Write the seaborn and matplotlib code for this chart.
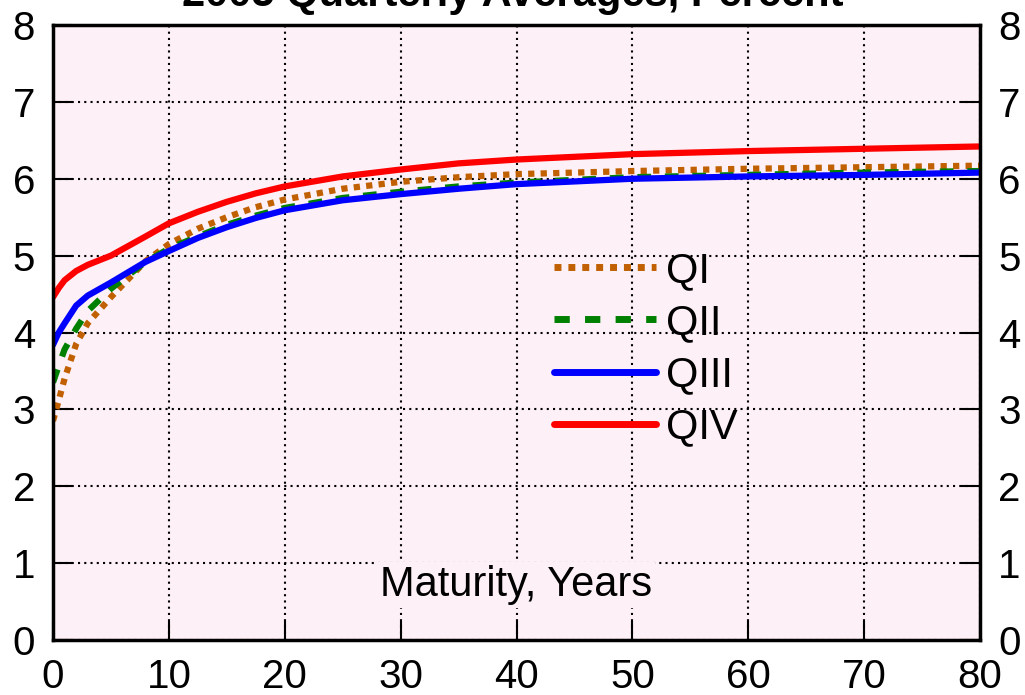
import numpy as np
import pandas as pd
import matplotlib
matplotlib.use("Agg")
import matplotlib.pyplot as plt
import seaborn as sns

maturity = [0, 0.5, 1, 2, 3, 5, 8, 10, 12.5, 15, 17.5, 20, 25, 30, 35, 40, 50, 60, 70, 80]
qi   = [2.85, 3.12, 3.40, 3.85, 4.12, 4.46, 4.93, 5.15, 5.35, 5.50, 5.63, 5.73, 5.87, 5.96, 6.02, 6.06, 6.10, 6.13, 6.15, 6.17]
qii  = [3.35, 3.57, 3.78, 4.05, 4.28, 4.57, 4.92, 5.09, 5.25, 5.40, 5.52, 5.62, 5.75, 5.83, 5.90, 5.95, 6.02, 6.05, 6.08, 6.10]
qiii = [3.84, 4.00, 4.12, 4.35, 4.48, 4.65, 4.92, 5.06, 5.23, 5.37, 5.49, 5.59, 5.72, 5.80, 5.87, 5.93, 6.00, 6.03, 6.05, 6.08]
qiv  = [4.46, 4.58, 4.68, 4.80, 4.88, 5.00, 5.25, 5.42, 5.57, 5.70, 5.81, 5.90, 6.03, 6.12, 6.20, 6.25, 6.32, 6.36, 6.39, 6.42]
series = ["QI", "QII", "QIII", "QIV"]
colors = ["#C06000", "#008000", "#0000FF", "#FF0000"]
x_ticks = [0, 10, 20, 30, 40, 50, 60, 70, 80]
y_ticks = [0, 1, 2, 3, 4, 5, 6, 7, 8]

df = pd.DataFrame({
    "Maturity": maturity * 4,
    "Rate": qi + qii + qiii + qiv,
    "Quarter": sum([[s] * len(maturity) for s in series], []),
})

sns.set_style("white")
plt.rcParams["font.family"] = ["Liberation Sans", "DejaVu Sans"]
plt.rcParams["text.color"] = "black"
plt.rcParams["xtick.color"] = "black"
plt.rcParams["ytick.color"] = "black"

fig = plt.figure(figsize=(10.25, 6.95), dpi=100)
ax = fig.add_axes([53/1025, 55/695, 927/1025, 615/695])
ax.set_facecolor("#FDF0F6")

dash_map = {"QI": (1, 1), "QII": (2.2, 2.2), "QIII": "", "QIV": ""}
sns.lineplot(data=df, x="Maturity", y="Rate", hue="Quarter", style="Quarter",
             palette=dict(zip(series, colors)), dashes=dash_map,
             linewidth=4.5, ax=ax, legend=True)
for ln in ax.get_lines():
    ln.set_dash_capstyle("butt")
    ln.set_solid_joinstyle("round")

ax.set_xlim(0, 80)
ax.set_ylim(0, 8)
ax.set_xticks(x_ticks)
ax.set_yticks(y_ticks)
ax.set_xlabel("")
ax.set_ylabel("")
ax.grid(True, color="black", linestyle=(0, (1, 2)), linewidth=1.5)
for sp in ax.spines.values():
    sp.set_visible(True)
    sp.set_color("black")
    sp.set_linewidth(2.5)

ax.tick_params(axis="both", direction="in", length=14, width=1.5, colors="black",
               labelsize=29, pad=13, labelcolor="black")
ax.tick_params(axis="y", left=True, right=True, labelleft=True, labelright=True)
ax.tick_params(axis="x", bottom=True, top=False)

ax.text(40, 0.72, "Maturity, Years", ha="center", va="center", fontsize=30,
        color="black", bbox=dict(facecolor="#FDF0F6", edgecolor="none", pad=2))

leg = ax.legend(loc="center left", bbox_to_anchor=(0.4995, 0.473), frameon=False,
                fontsize=30, handlelength=2.45, handletextpad=0.24, labelspacing=0.29)
for h in leg.get_lines():
    h.set_linewidth(5)
for t in leg.get_texts():
    t.set_color("black")

fig.text(0.5, 1 - 6/695, "2005 Quarterly Averages, Percent", ha="center",
         va="baseline", fontsize=30, fontweight="bold", color="black")

fig.savefig("out.png", dpi=100)
